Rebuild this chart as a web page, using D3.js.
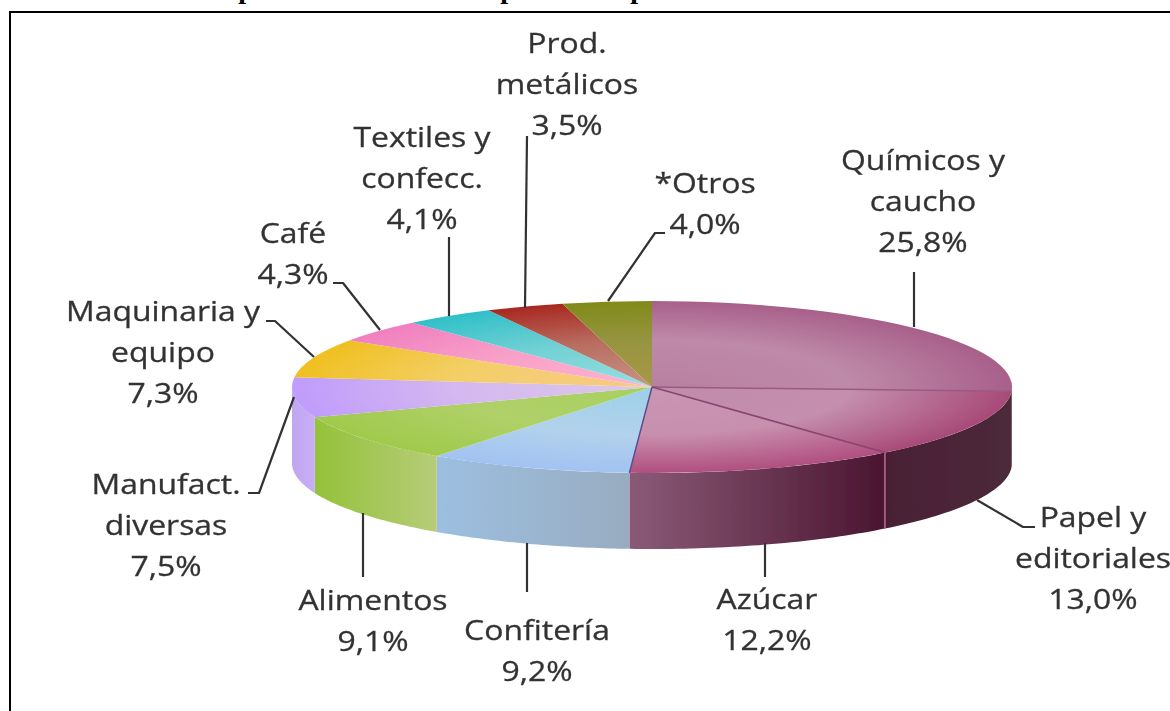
<!DOCTYPE html>
<html>
<head>
<meta charset="utf-8">
<script src="https://cdn.jsdelivr.net/npm/d3@7"></script>
<style>
html, body { margin: 0; padding: 0; background: #fff; }
svg { display: block; }
</style>
</head>
<body>
<div id="chart"></div>
<script>
var categories = ["Químicos y caucho", "Papel y editoriales", "Azúcar", "Confitería", "Alimentos",
    "Manufact. diversas", "Maquinaria y equipo", "Café", "Textiles y confecc.", "Prod. metálicos", "*Otros"]
var shares = [25.8, 13.0, 12.2, 9.2, 9.1, 7.5, 7.3, 4.3, 4.1, 3.5, 4.0]

/*top face: centre colour, middle colour, rim colour*/
var topColors = [
    ["#b880a0", "#be8aa9", "#a8608a"],
    ["#c08cab", "#c48fae", "#a84a78"],
    ["#c896b4", "#c88fae", "#b04f80"],
    ["#9cd0e8", "#b2d2ec", "#a2c2f2"],
    ["#a8d060", "#b0d068", "#a0ca4c"],
    ["#dcc8e8", "#d4b8f0", "#c09cfc"],
    ["#f8c888", "#f3cf68", "#f0c020"],
    ["#ffb4d0", "#f8a0c8", "#f080c0"],
    ["#98e0e0", "#70d0d4", "#30c0c8"],
    ["#c89484", "#b86c60", "#a82820"],
    ["#a89848", "#969440", "#808a18"]
]
/*side wall: left colour, right colour*/
var sideColors = [
    ["#4a2636", "#50303f"],
    ["#4a1f35", "#4c2a3a"],
    ["#8a5a78", "#4a1530"],
    ["#9cbfe0", "#98acc0"],
    ["#94c23a", "#b6cc78"],
    ["#c0a6f0", "#c8aef5"],
    ["#f0c020", "#f0c020"],
    ["#f080c0", "#f080c0"],
    ["#30c0c8", "#30c0c8"],
    ["#a82820", "#a82820"],
    ["#808a18", "#808a18"]
]

/*label text, one list of lines per slice, with centre x and first baseline*/
var labelLines = [
    ["Químicos y", "caucho", "25,8%"],
    ["Papel y", "editoriales", "13,0%"],
    ["Azúcar", "12,2%"],
    ["Confitería", "9,2%"],
    ["Alimentos", "9,1%"],
    ["Manufact.", "diversas", "7,5%"],
    ["Maquinaria y", "equipo", "7,3%"],
    ["Café", "4,3%"],
    ["Textiles y", "confecc.", "4,1%"],
    ["Prod.", "metálicos", "3,5%"],
    ["*Otros", "4,0%"]
]
var labelX = [923, 1093, 767, 537, 373, 166, 163, 293, 422, 567, 705]
var labelY = [170, 527, 609, 640, 610, 494, 321, 243, 147, 53, 193]
var lineStep = 41

var leaders = [
    [[914, 272], [914, 327]],
    [[977, 500], [1023, 527], [1035, 527]],
    [[765, 543], [765, 577]],
    [[527, 543], [527, 592]],
    [[363, 513], [363, 577]],
    [[248, 493], [259, 493], [294, 397]],
    [[266, 321], [275, 321], [314, 357]],
    [[333, 283], [343, 283], [380, 330]],
    [[449, 237], [449, 316]],
    [[527, 136], [525, 308]],
    [[665, 233], [655, 233], [608, 301]]
]

/*only the descenders of the cut off title are left in the picture*/
var titleGlyphs = ["p", "p", "p"]
var titleX = [246, 508, 638]

var width = 1170, height = 711
var cx = 652, cy = 387, rx = 360, ry = 86, depth = 76

var svg = d3.select("#chart").append("svg")
    .attr("width", width)
    .attr("height", height)

var defs = svg.append("defs")
defs.append("filter").attr("id", "soft")
    .attr("filterUnits", "userSpaceOnUse")
    .attr("x", 0).attr("y", 0).attr("width", width).attr("height", height)
    .append("feGaussianBlur").attr("stdDeviation", 0.7)

var pie = d3.pie().sort(null).value(function(d) { return d; })
var slices = pie(shares)

var arc = d3.arc().innerRadius(0).outerRadius(rx)

function px(a) { return cx + rx * Math.sin(a); }
function py(a) { return cy - ry * Math.cos(a); }

/*gradients*/
topColors.forEach(function(c, i) {
    var g = defs.append("radialGradient")
        .attr("id", "top" + i)
        .attr("gradientUnits", "userSpaceOnUse")
        .attr("cx", 0).attr("cy", 0).attr("r", rx)
    g.append("stop").attr("offset", "0").attr("stop-color", c[0])
    g.append("stop").attr("offset", "0.55").attr("stop-color", c[1])
    g.append("stop").attr("offset", "1").attr("stop-color", c[2])
})
sideColors.forEach(function(c, i) {
    var g = defs.append("linearGradient").attr("id", "side" + i)
    g.append("stop").attr("offset", "0").attr("stop-color", c[0])
    g.append("stop").attr("offset", "1").attr("stop-color", c[1])
})

/*frame, the picture is cut at the bottom and on the right*/
svg.append("path")
    .attr("d", d3.line()([[10, height], [10, 12], [width, 12]]))
    .attr("fill", "none")
    .attr("stroke", "#000")
    .attr("stroke-width", 2)

svg.selectAll(".title-glyph")
    .data(titleGlyphs)
    .enter().append("text")
    .attr("class", "title-glyph")
    .attr("x", function(d, i) { return titleX[i]; })
    .attr("y", -2)
    .attr("text-anchor", "middle")
    .style("font-family", "'Liberation Serif'")
    .style("font-weight", "bold")
    .style("font-size", "28px")
    .text(function(d) { return d; })

var pieGroup = svg.append("g").attr("filter", "url(#soft)")

/*side walls, only the part facing the viewer*/
var wallLine = d3.line()
pieGroup.selectAll(".wall")
    .data(slices.filter(function(d) { return d.endAngle > Math.PI / 2 && d.startAngle < Math.PI * 1.5; }))
    .enter().append("path")
    .attr("class", "wall")
    .attr("fill", function(d) { return "url(#side" + d.index + ")"; })
    .attr("d", function(d) {
        var a0 = Math.max(d.startAngle, Math.PI / 2)
        var a1 = Math.min(d.endAngle, Math.PI * 1.5)
        var angles = d3.range(0, 41).map(function(k) { return a0 + (a1 - a0) * k / 40; })
        var upper = angles.map(function(a) { return [px(a), py(a)]; })
        var lower = angles.slice().reverse().map(function(a) { return [px(a), py(a) + depth]; })
        return wallLine(upper.concat(lower)) + "Z"
    })

/*light seam on the wall between the two plum slices*/
pieGroup.append("path")
    .attr("d", function() {
        var a = slices[1].endAngle
        return wallLine([[px(a), py(a)], [px(a), py(a) + depth]])
    })
    .attr("stroke", "#b5709a")
    .attr("stroke-width", 1.5)

/*top face*/
var topGroup = pieGroup.append("g")
    .attr("transform", "translate(" + cx + "," + cy + ") scale(1," + (ry / rx) + ")")

topGroup.selectAll(".slice")
    .data(slices)
    .enter().append("path")
    .attr("class", "slice")
    .attr("d", arc)
    .attr("fill", function(d) { return "url(#top" + d.index + ")"; })

/*spokes between the plum slices and the blue one*/
var spokeColors = ["#9a5a82", "#8a4470", "#5c4c8e"]
pieGroup.selectAll(".spoke")
    .data(spokeColors)
    .enter().append("path")
    .attr("class", "spoke")
    .attr("fill", "none")
    .attr("stroke", function(d) { return d; })
    .attr("stroke-width", 1.5)
    .attr("d", function(d, i) {
        var a = slices[i].endAngle
        return wallLine([[cx, cy], [px(a), py(a)]])
    })

/*leader lines*/
var leaderGroup = svg.append("g").attr("filter", "url(#soft)")
leaderGroup.selectAll(".leader")
    .data(leaders)
    .enter().append("path")
    .attr("class", "leader")
    .attr("fill", "none")
    .attr("stroke", "#333")
    .attr("stroke-width", 2.2)
    .attr("stroke-linejoin", "round")
    .attr("d", function(d) { return d3.line()(d); })

/*labels*/
var textGroup = svg.append("g").attr("filter", "url(#soft)")
var label = textGroup.selectAll(".label")
    .data(labelLines)
    .enter().append("g")
    .attr("class", "label")
    .attr("transform", function(d, i) { return "translate(" + labelX[i] + "," + labelY[i] + ") scale(1.14,1)"; })

label.selectAll("text")
    .data(function(d) { return d; })
    .enter().append("text")
    .attr("y", function(d, i) { return i * lineStep; })
    .attr("text-anchor", "middle")
    .style("font-family", "'Open Sans'")
    .style("font-size", "28px")
    .style("fill", "#333")
    .style("stroke", "#333")
    .style("stroke-width", 0.3)
    .text(function(d) { return d; })
</script>
</body>
</html>
